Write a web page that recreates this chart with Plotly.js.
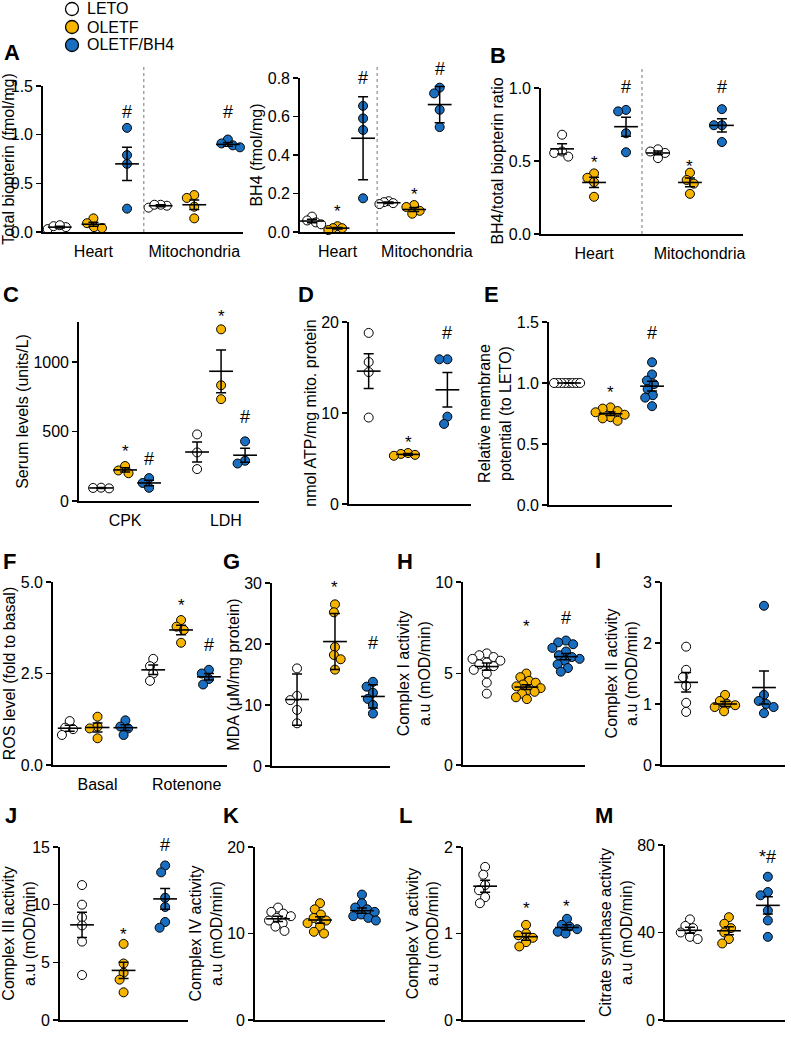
<!DOCTYPE html>
<html><head><meta charset="utf-8">
<script src="https://cdn.plot.ly/plotly-3.0.1.min.js"></script>
<style>html,body{margin:0;padding:0;background:#fff}</style>
</head><body><div id="chart" style="width:791px;height:1039px"></div>
<script>
// ---------- DATA ----------
const groupNames = ['LETO', 'OLETF', 'OLETF/BH4'];

// A (left) Total biopterin: Heart LETO/OLETF/BH4, Mito LETO/OLETF/BH4
const A1_categories = ['Heart', 'Mitochondria'];
const A1_points = [[0.03,0.05,0.06,0.07],[0.14,0.09,0.05,0.04],[1.07,0.79,0.70,0.24],[0.25,0.27,0.28,0.28],[0.38,0.35,0.26,0.14],[0.95,0.91,0.89,0.87]];
const A1_mean = [0.05,0.08,0.70,0.27,0.28,0.90];
const A1_err = [0.01,0.02,0.17,0.01,0.05,0.02];
const A1_marks = ['','','#','','','#'];
const A1_markY = [0,0,1.23,0,0,1.23];

// A (right) BH4
const A2_categories = ['Heart', 'Mitochondria'];
const A2_points = [[0.08,0.06,0.05,0.04],[0.03,0.02,0.02,0.01],[0.655,0.59,0.53,0.175],[0.16,0.155,0.15,0.145],[0.14,0.13,0.11,0.095],[0.75,0.72,0.635,0.545]];
const A2_mean = [0.057,0.02,0.487,0.152,0.117,0.662];
const A2_err = [0.009,0.004,0.215,0.004,0.01,0.094];
const A2_marks = ['','*','#','','*','#'];
const A2_markY = [0,0.125,0.80,0,0.218,0.845];

// B BH4/total biopterin ratio
const B_categories = ['Heart', 'Mitochondria'];
const B_points = [[0.68,0.565,0.555,0.53],[0.415,0.385,0.355,0.255],[0.85,0.84,0.69,0.56],[0.58,0.565,0.555,0.52],[0.42,0.37,0.345,0.275],[0.855,0.745,0.745,0.63]];
const B_mean = [0.583,0.353,0.735,0.555,0.353,0.744];
const B_err = [0.035,0.035,0.065,0.013,0.03,0.045];
const B_marks = ['','*','#','','*','#'];
const B_markY = [0,0.52,1.01,0,0.49,1.01];

// C Serum levels
const C_categories = ['CPK', 'LDH'];
const C_points = [[96,94,91],[252,220,200],[165,130,95],[480,350,230],[1237,834,734],[430,290,270]];
const C_mean = [94,224,130,353,935,330];
const C_err = [4,15,20,72,154,50];
const C_marks = ['','*','#','','*','#'];
const C_markY = [0,385,302,0,1362,606];

// D ATP
const D_points = [[18.8,15.6,14.5,9.5],[5.6,5.5,5.4,5.3],[15.9,15.9,9.6,8.8]];
const D_mean = [14.6,5.45,12.55];
const D_err = [1.9,0.1,1.9];
const D_marks = ['','*','#'];
const D_markY = [0,7.2,18.8];

// E membrane potential
const E_points = [[1,1,1,1,1,1,1,1],[0.80,0.79,0.77,0.76,0.74,0.72,0.71,0.69],[1.17,1.07,1.02,0.99,0.95,0.90,0.88,0.81]];
const E_mean = [1.0,0.748,0.974];
const E_err = [0.003,0.014,0.04];
const E_marks = ['','*','#'];
const E_markY = [0,0.955,1.41];

// F ROS
const F_categories = ['Basal', 'Rotenone'];
const F_points = [[1.2,1.02,0.98,0.82],[1.32,1.05,1.0,0.73],[1.22,1.05,1.0,0.82],[2.9,2.7,2.5,2.3],[3.96,3.78,3.69,3.34],[2.6,2.5,2.35,2.2]];
const F_mean = [1.005,1.025,1.02,2.6,3.69,2.41];
const F_err = [0.08,0.12,0.08,0.13,0.13,0.09];
const F_marks = ['','','','','*','#'];
const F_markY = [0,0,0,0,4.46,3.28];

// G MDA
const G_points = [[16,11.5,10.8,9.2,7.0],[26.5,25.2,19.5,18.2,17.5,15.8],[13.8,13.0,12.0,11.0,10.0,8.6]];
const G_mean = [10.9,20.4,11.4];
const G_err = [4.2,4.6,1.9];
const G_marks = ['','*','#'];
const G_markY = [0,30,20.2];

// H Complex I
const H_points = [[6.1,6.0,5.9,5.8,5.7,5.6,5.5,5.4,5.2,5.0,4.5,3.9],[5.0,4.8,4.6,4.5,4.4,4.3,4.2,4.1,4.0,3.9,3.7,3.6],[6.8,6.7,6.6,6.4,6.2,6.0,5.9,5.8,5.7,5.5,5.3,5.1]];
const H_mean = [5.38,4.26,5.92];
const H_err = [0.2,0.13,0.17];
const H_marks = ['','*','#'];
const H_markY = [0,7.76,8.03];

// I Complex II
const I_points = [[1.94,1.56,1.44,1.3,1.02,0.87],[1.15,1.05,1.0,0.98,0.95,0.88],[2.61,1.15,1.05,1.0,0.95,0.85]];
const I_mean = [1.355,1.0,1.27];
const I_err = [0.16,0.04,0.27];
const I_marks = ['','',''];
const I_markY = [0,0,0];

// J Complex III
const J_points = [[11.7,10.0,8.9,8.2,6.8,3.9],[6.6,4.9,4.1,3.5,2.4],[13.4,12.8,10.6,9.8,8.5,8.0]];
const J_mean = [8.25,4.3,10.5];
const J_err = [1.1,0.7,0.9];
const J_marks = ['','*','#'];
const J_markY = [0,7.8,15.2];

// K Complex IV
const K_points = [[13.0,12.5,12.3,12.0,11.8,11.5,11.2,10.8,10.3],[13.5,12.8,12.2,11.8,11.5,11.2,10.8,10.2,10.0],[14.5,13.5,13.0,12.8,12.5,12.2,12.0,11.8,11.5]];
const K_mean = [11.7,11.56,12.64];
const K_err = [0.3,0.38,0.3];
const K_marks = ['','',''];
const K_markY = [0,0,0];

// L Complex V
const L_points = [[1.77,1.68,1.56,1.5,1.42,1.35],[1.1,1.0,0.98,0.95,0.9,0.85],[1.17,1.1,1.08,1.05,1.02,1.0]];
const L_mean = [1.547,0.963,1.07];
const L_err = [0.07,0.04,0.03];
const L_marks = ['','*','*'];
const L_markY = [0,1.33,1.36];

// M Citrate synthase
const M_points = [[46,43,42,40,38,37],[47,44,42,40,37,35],[65.5,58.5,57,50,45.5,38]];
const M_mean = [41,40.8,52.4];
const M_err = [1.4,1.8,4.0];
const M_marks = ['','','*#'];
const M_markY = [0,0,74.5];

// ---------- STYLE / LAYOUT ----------
const W = 791, H = 1039;
const colors = ['#FFFFFF', '#F7B500', '#1A6EC0'];
const six = [0,1,2,3,4,5], three = [0,1,2];
const g6 = [0,1,2,0,1,2], g3 = [0,1,2];

const panels = [
  {L:'A',lx:12,ly:52,box:[43,243,232,86],xr:[-0.5,5.45],pos:six,gi:g6,yr:[0,1.5],ytv:[0,0.5,1,1.5],fmt:'.1f',cats:A1_categories,catPos:[1,4],sep:2.5,title:'Total biopterin (fmol/mg)',P:A1_points,Mn:A1_mean,E:A1_err,Mk:A1_marks,MY:A1_markY},
  {L:'',box:[300,455,232,78],xr:[-0.47,5.6],pos:six,gi:g6,yr:[0,0.8],ytv:[0,0.2,0.4,0.6,0.8],fmt:'.1f',cats:A2_categories,catPos:[1,4.5],sep:2.55,title:'BH4 (fmol/mg)',P:A2_points,Mn:A2_mean,E:A2_err,Mk:A2_marks,MY:A2_markY},
  {L:'B',lx:498,ly:55,box:[541,743,234,88],xr:[-0.66,5.66],pos:six,gi:g6,yr:[0,1],ytv:[0,0.5,1],fmt:'.1f',cats:B_categories,catPos:[1,4.3],sep:2.5,title:'BH4/total biopterin ratio',P:B_points,Mn:B_mean,E:B_err,Mk:B_marks,MY:B_markY},
  {L:'C',lx:11,ly:295,box:[79,259,501,322],xr:[-0.92,6.58],pos:[0,1,2,4,5,6],gi:g6,yr:[0,1290],ytv:[0,500,1000],fmt:'d',cats:C_categories,catPos:[1,5.2],title:'Serum levels (units/L)',P:C_points,Mn:C_mean,E:C_err,Mk:C_marks,MY:C_markY},
  {L:'D',lx:306,ly:294,box:[349,471,504,322],xr:[-0.5,2.6],pos:three,gi:g3,yr:[0,20],ytv:[0,10,20],fmt:'d',title:'nmol ATP/mg mito. protein',P:D_points,Mn:D_mean,E:D_err,Mk:D_marks,MY:D_markY},
  {L:'E',lx:492,ly:294,box:[549,672,505,322],xr:[-0.48,2.48],pos:three,gi:g3,yr:[0,1.5],ytv:[0,0.5,1,1.5],fmt:'.1f',title:'Relative membrane<br>potential (to LETO)',P:E_points,Mn:E_mean,E:E_err,Mk:E_marks,MY:E_markY},
  {L:'F',lx:9,ly:561,box:[53,227,765,582],xr:[-0.6,5.65],pos:six,gi:g6,yr:[0,5],ytv:[0,2.5,5],fmt:'.1f',cats:F_categories,catPos:[1,4.2],title:'ROS level (fold to basal)',P:F_points,Mn:F_mean,E:F_err,Mk:F_marks,MY:F_markY},
  {L:'G',lx:231,ly:561,box:[272,390,766,583],xr:[-0.66,2.45],pos:three,gi:g3,yr:[0,30],ytv:[0,10,20,30],fmt:'d',title:'MDA (\u03bcM/mg protein)',P:G_points,Mn:G_mean,E:G_err,Mk:G_marks,MY:G_markY},
  {L:'H',lx:405,ly:561,box:[463,585,765,582],xr:[-0.6,2.48],pos:three,gi:g3,yr:[0,10],ytv:[0,5,10],fmt:'d',title:'Complex I activity<br>a.u (mOD/min)',P:H_points,Mn:H_mean,E:H_err,Mk:H_marks,MY:H_markY},
  {L:'I',lx:598,ly:560,box:[662,785,765,582],xr:[-0.62,2.54],pos:three,gi:g3,yr:[0,3],ytv:[0,1,2,3],fmt:'d',title:'Complex II activity<br>a.u (mOD/min)',P:I_points,Mn:I_mean,E:I_err,Mk:I_marks,MY:I_markY},
  {L:'J',lx:11,ly:815,box:[60,188,1020,847],xr:[-0.53,2.55],pos:three,gi:g3,yr:[0,15],ytv:[0,5,10,15],fmt:'d',title:'Complex III activity<br>a.u (mOD/min)',P:J_points,Mn:J_mean,E:J_err,Mk:J_marks,MY:J_markY},
  {L:'K',lx:231,ly:815,box:[255,385,1020,847],xr:[-0.55,2.55],pos:three,gi:g3,yr:[0,20],ytv:[0,10,20],fmt:'d',title:'Complex IV activity<br>a.u (mOD/min)',P:K_points,Mn:K_mean,E:K_err,Mk:K_marks,MY:K_markY},
  {L:'L',lx:405,ly:815,box:[463,585,1020,847],xr:[-0.54,2.44],pos:three,gi:g3,yr:[0,2],ytv:[0,1,2],fmt:'d',title:'Complex V activity<br>a.u (mOD/min)',P:L_points,Mn:L_mean,E:L_err,Mk:L_marks,MY:L_markY},
  {L:'M',lx:604,ly:815,box:[665,785,1020,845],xr:[-0.64,2.44],pos:three,gi:g3,yr:[0,80],ytv:[0,40,80],fmt:'d',title:'Citrate synthase activity<br>a.u (mOD/min)',P:M_points,Mn:M_mean,E:M_err,Mk:M_marks,MY:M_markY}
];

const FONT = 'Liberation Sans, Arial, Helvetica, sans-serif';
const traces = [], annotations = [], shapes = [];
const layout = {
  width: W, height: H, margin: {l:0, r:0, t:0, b:0},
  paper_bgcolor: '#fff', plot_bgcolor: 'rgba(0,0,0,0)',
  font: {family: FONT, color: '#000'},
  showlegend: false,
  hovermode: false
};

function swarm(vals, pxX, pxY, D, lim) {
  const order = vals.map((v, i) => i).sort((a, b) => vals[b] - vals[a]);
  const placed = []; const dx = new Array(vals.length).fill(0);
  order.forEach(i => {
    const y = vals[i] * pxY; const bad = [];
    placed.forEach(j => {
      const dy = Math.abs(y - vals[j] * pxY);
      if (dy < D) { const h = Math.sqrt(D * D - dy * dy); bad.push([dx[j] - h, dx[j] + h]); }
    });
    const cands = [0]; bad.forEach(b => cands.push(b[0], b[1]));
    cands.sort((a, b) => (Math.abs(a) - Math.abs(b)) || (a - b));
    for (const c of cands) {
      if (bad.every(b => c <= b[0] + 1e-9 || c >= b[1] - 1e-9)) { dx[i] = c; break; }
    }
    placed.push(i);
  });
  const m = Math.max(...dx.map(Math.abs));
  if (m > lim) for (let k = 0; k < dx.length; k++) dx[k] *= lim / m;
  return dx;
}

panels.forEach((p, i) => {
  const n = i + 1, sfx = n === 1 ? '' : String(n);
  const xid = 'x' + sfx, yid = 'y' + sfx;
  const [x0, x1, yb, yt] = p.box;
  layout['xaxis' + sfx] = {
    domain: [x0 / W, x1 / W], range: p.xr, anchor: yid, showgrid: false, zeroline: false,
    showline: true, linecolor: '#000', linewidth: 1.8, ticks: '',
    tickmode: 'array', tickvals: p.cats ? p.catPos : [], ticktext: p.cats || [],
    showticklabels: !!p.cats, tickfont: {size: 16, family: FONT}, ticklabelstandoff: 4, fixedrange: true
  };
  layout['yaxis' + sfx] = {
    domain: [1 - yb / H, 1 - yt / H], range: p.yr, anchor: xid, showgrid: false, zeroline: false,
    showline: true, linecolor: '#000', linewidth: 1.8, ticks: 'outside', ticklen: 5, tickwidth: 1.5, tickcolor: '#000',
    tickmode: 'array', tickvals: p.ytv, tickformat: p.fmt, tickfont: {size: 16, family: FONT},
    title: {text: p.title, font: {size: 16, family: FONT}, standoff: 1}, fixedrange: true
  };
  const pxX = (x1 - x0) / (p.xr[1] - p.xr[0]);
  const pxY = (yb - yt) / (p.yr[1] - p.yr[0]);
  const spacingPx = (p.pos[1] - p.pos[0]) * pxX;
  p.P.forEach((vals, g) => {
    const c = p.gi[g];
    const dx = swarm(vals, pxX, pxY, 8, spacingPx * 0.36);
    traces.push({
      type: 'scatter', mode: 'markers', xaxis: xid, yaxis: yid, showlegend: false, cliponaxis: false,
      name: groupNames[c],
      x: vals.map((v, k) => p.pos[g] + dx[k] / pxX), y: vals,
      marker: {size: 9, color: colors[c], line: {color: '#000', width: 1}}, hoverinfo: 'skip'
    });
  });
  p.Mn.forEach((m, g) => {
    traces.push({
      type: 'scatter', mode: 'markers', xaxis: xid, yaxis: yid, showlegend: false, cliponaxis: false,
      x: [p.pos[g]], y: [m],
      marker: {symbol: 'line-ew-open', size: 17, color: '#000', line: {color: '#000', width: 1.6}},
      error_y: {type: 'data', array: [p.E[g]], visible: true, color: '#000', thickness: 1.5, width: 5},
      hoverinfo: 'skip'
    });
  });
  // significance marks: x in data units, y converted through the axis scale to paper (so marks above the axis top still draw)
  p.Mk.forEach((t, g) => {
    if (!t) return;
    const yPaper = 1 - (yb - (p.MY[g] - p.yr[0]) * pxY) / H;
    annotations.push({xref: xid, yref: 'paper', x: p.pos[g], y: yPaper, text: t, showarrow: false,
      xanchor: 'center', yanchor: 'middle',
      font: {size: t === '*' ? 17 : 18, family: FONT}, yshift: t === '*' ? -4 : 0});
  });
  if (p.sep !== undefined) {
    shapes.push({type: 'line', xref: xid, yref: 'paper', x0: p.sep, x1: p.sep, y0: 1 - yb / H, y1: 1 - 67 / H,
      line: {color: '#777', width: 1, dash: 'dot'}});
  }
  if (p.L) {
    annotations.push({xref: 'paper', yref: 'paper', x: p.lx / W, y: 1 - p.ly / H, xanchor: 'center', yanchor: 'middle',
      text: '<b>' + p.L + '</b>', showarrow: false, font: {size: 22, family: FONT}});
  }
});

// legend (key) at top-left
const legendY = [9, 27, 45];
groupNames.forEach((nm, c) => {
  const cy = legendY[c], cx = 72, r = 6.5;
  shapes.push({type: 'circle', xref: 'paper', yref: 'paper', x0: (cx - r) / W, x1: (cx + r) / W,
    y0: 1 - (cy + r) / H, y1: 1 - (cy - r) / H, fillcolor: colors[c], line: {color: '#000', width: 1.3}});
  annotations.push({xref: 'paper', yref: 'paper', x: 85 / W, y: 1 - cy / H, xanchor: 'left', yanchor: 'middle',
    text: nm, showarrow: false, font: {size: 16, family: FONT}});
});

layout.annotations = annotations;
layout.shapes = shapes;
Plotly.newPlot('chart', traces, layout, {staticPlot: true, displayModeBar: false});
</script>
</body></html>
